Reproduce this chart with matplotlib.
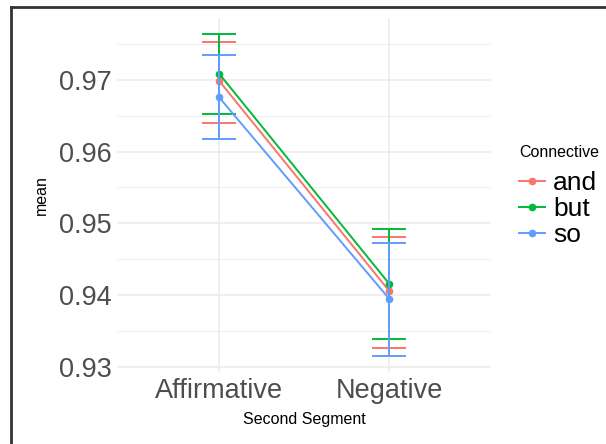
import matplotlib
matplotlib.use("Agg")
import matplotlib.pyplot as plt
from matplotlib.lines import Line2D

plt.rcParams['font.family'] = ['Liberation Sans', 'DejaVu Sans']

# data
segments = ["Affirmative", "Negative"]
connectives = ["and", "but", "so"]
colors = {"and": "#F8766D", "but": "#00BA38", "so": "#619CFF"}
mean = {"and": [0.9699, 0.9406],
        "but": [0.9709, 0.9416],
        "so": [0.9676, 0.9395]}
upper = {"and": [0.9753, 0.9481],
         "but": [0.9764, 0.9492],
         "so": [0.9735, 0.9472]}
lower = {"and": [0.9640, 0.9326],
         "but": [0.9653, 0.9339],
         "so": [0.9617, 0.9315]}

fig = plt.figure(figsize=(6.06, 4.44), dpi=100)
ax = fig.add_axes([117 / 606, 1 - 372 / 444, 374 / 606, 354 / 444])

x = list(range(len(segments)))
cap = 0.1
for c in connectives:
    col = colors[c]
    ax.plot(x, mean[c], color=col, lw=1.4, marker="o", ms=4.5, zorder=3)
    for i in x:
        ax.vlines(i, lower[c][i], upper[c][i], color=col, lw=1.4, zorder=3)
        ax.hlines([lower[c][i], upper[c][i]], i - cap, i + cap, color=col, lw=1.4, zorder=3)

lo = min(min(v) for v in lower.values())
hi = max(max(v) for v in upper.values())
pad = (hi - lo) * 0.05
ax.set_ylim(lo - pad, hi + pad)
ax.set_xlim(-0.6, len(segments) - 0.4)

ax.set_yticks([0.93, 0.94, 0.95, 0.96, 0.97])
ax.set_yticklabels(["0.93", "0.94", "0.95", "0.96", "0.97"])
ax.set_yticks([0.935, 0.945, 0.955, 0.965, 0.975], minor=True)
ax.set_xticks(x)
ax.set_xticklabels(segments)
ax.tick_params(axis="both", which="both", length=0, labelsize=19.5, labelcolor="#4D4D4D", pad=4)
ax.grid(True, which="major", color="#EBEBEB", lw=1.1)
ax.grid(True, which="minor", axis="y", color="#EBEBEB", lw=0.6)
ax.set_axisbelow(True)
for s in ax.spines.values():
    s.set_visible(False)

ax.set_xlabel("Second Segment", fontsize=11.5, labelpad=6)
ax.set_ylabel("mean", fontsize=11.5, labelpad=7)

# legend: title drawn separately to get the ggplot gap
fig.text(519 / 606, 1 - 152 / 444, "Connective", fontsize=11.5, ha="left", va="center")
handles = [Line2D([0], [0], color=colors[c], lw=1.4, marker="o", ms=4.5) for c in connectives]
leg = fig.legend(handles, connectives, loc="center left", bbox_to_anchor=(519 / 606, 1 - 209 / 444),
                 frameon=False, fontsize=19, handlelength=1.0, handletextpad=0.3,
                 labelspacing=0.08, borderpad=0, borderaxespad=0)

# dark frame on left and top of image
fig.add_artist(Line2D([11 / 606, 11 / 606], [0, 1 - 7 / 444], color="#333333", lw=2))
fig.add_artist(Line2D([11 / 606, 1], [1 - 7 / 444, 1 - 7 / 444], color="#333333", lw=2))

fig.savefig("out.png", dpi=100)
